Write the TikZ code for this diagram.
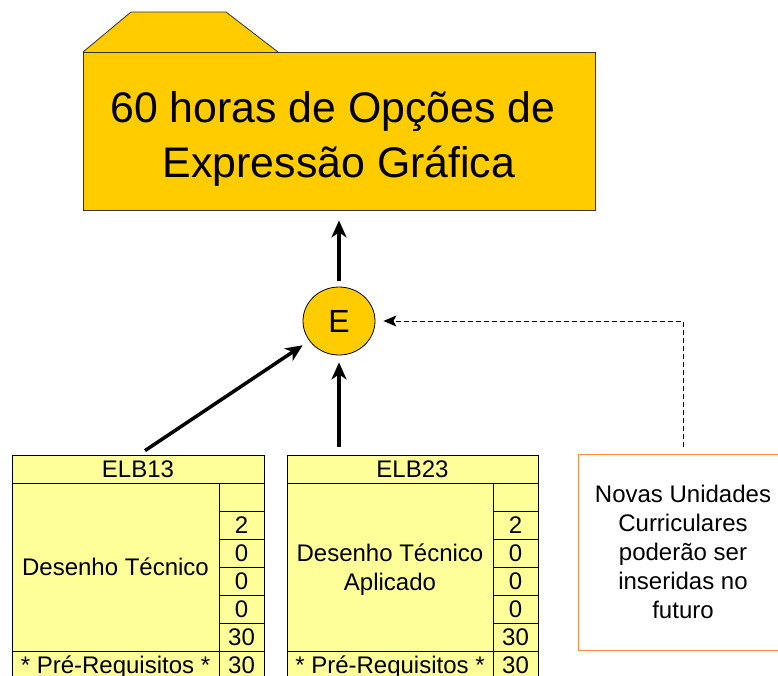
\documentclass[tikz,border=0pt]{standalone}
\usepackage{fontspec}
\setmainfont{Liberation Sans}
\usetikzlibrary{arrows.meta,shapes.geometric}
\definecolor{gold}{HTML}{FFCC00}
\definecolor{paleyellow}{HTML}{FFFF99}
\definecolor{orangeline}{HTML}{FF8C40}
\begin{document}
\begin{tikzpicture}[x=1pt,y=-1pt,
  cell/.style={draw=black, line width=0.8pt, fill=paleyellow, inner sep=0pt,
    font=\fontsize{24}{29}\selectfont, text height=17.2pt, text depth=0pt},
  lbl/.style={align=center, inner sep=0pt, font=\fontsize{24}{29}\selectfont},
  title/.style={anchor=base, inner sep=0pt, font=\fontsize{42.8}{55}\selectfont},
  big/.style={line width=3.5pt, -{Stealth[length=17pt,width=15pt,inset=5pt]}},
  dasharrow/.style={line width=1pt, dash pattern=on 5pt off 3pt,
    -{Stealth[length=13pt,width=11pt,inset=3pt]}}
]
\useasboundingbox (0,0) rectangle (778,675);

% folder
\draw[draw=black!80, line width=0.8pt, fill=gold] (83,52) -- (131,12) -- (226,12) -- (278,52);
\node[draw=black!80, line width=0.8pt, fill=gold, minimum width=512pt, minimum height=158pt, inner sep=0pt] (folder) at (339,131) {};
\node[title] (t1) at (333,122) {60 horas de Opções de};
\node[title] (t2) at (339,177) {Expressão Gráfica};

% E node
\node[ellipse, draw=black, line width=0.8pt, fill=gold, minimum width=72pt, minimum height=68pt, inner sep=0pt,
  font=\fontsize{32}{34}\selectfont] (E) at (339,321) {E};

% table ELB13
\node[cell, minimum width=252pt, minimum height=28pt] (h1) at (138,469) {ELB13};
\node[cell, minimum width=207pt, minimum height=168pt] (d1) at (115.5,567) {Desenho Técnico};
\node[cell, minimum width=45pt, minimum height=28pt] (a1) at (241.5,497) {};
\node[cell, minimum width=45pt, minimum height=28pt] (b1) at (241.5,525) {2};
\node[cell, minimum width=45pt, minimum height=28pt] (c1) at (241.5,553) {0};
\node[cell, minimum width=45pt, minimum height=28pt] (e1) at (241.5,581) {0};
\node[cell, minimum width=45pt, minimum height=28pt] (f1) at (241.5,609) {0};
\node[cell, minimum width=45pt, minimum height=28pt] (g1) at (241.5,637) {30};
\node[cell, minimum width=207pt, minimum height=28pt] (p1) at (115.5,665) {* Pré-Requisitos *};
\node[cell, minimum width=45pt, minimum height=28pt] (q1) at (241.5,665) {30};

% table ELB23
\node[cell, minimum width=251pt, minimum height=28pt] (h2) at (412.5,469) {ELB23};
\node[cell, minimum width=206pt, minimum height=168pt] (d2) at (390,567) {};
\node[lbl] (d2t) at ([yshift=-3pt]d2.center) {Desenho Técnico\\Aplicado};
\node[cell, minimum width=45pt, minimum height=28pt] (a2) at (515.5,497) {};
\node[cell, minimum width=45pt, minimum height=28pt] (b2) at (515.5,525) {2};
\node[cell, minimum width=45pt, minimum height=28pt] (c2) at (515.5,553) {0};
\node[cell, minimum width=45pt, minimum height=28pt] (e2) at (515.5,581) {0};
\node[cell, minimum width=45pt, minimum height=28pt] (f2) at (515.5,609) {0};
\node[cell, minimum width=45pt, minimum height=28pt] (g2) at (515.5,637) {30};
\node[cell, minimum width=206pt, minimum height=28pt] (p2) at (390,665) {* Pré-Requisitos *};
\node[cell, minimum width=45pt, minimum height=28pt] (q2) at (515.5,665) {30};

% orange note
\node[draw=orangeline, line width=1pt, fill=white, minimum width=210pt, minimum height=196pt,
  align=center, inner sep=0pt, font=\fontsize{24}{29}\selectfont] (nov) at (683,552)
  {Novas Unidades\\Curriculares\\poderão ser\\inseridas no\\futuro};

% connectors
\draw[big, shorten <=6pt, shorten >=10pt] (E.north) -- (folder.south);
\draw[big, shorten <=8pt, shorten >=7pt] (h2.north -| E.south) -- (E.south);
\draw[big, shorten >=8pt] ([xshift=7pt,yshift=4pt]h1.north) -- (E);
\draw[dasharrow, shorten <=7pt, shorten >=8pt] (nov.north) |- (E.east);
\end{tikzpicture}
\end{document}
